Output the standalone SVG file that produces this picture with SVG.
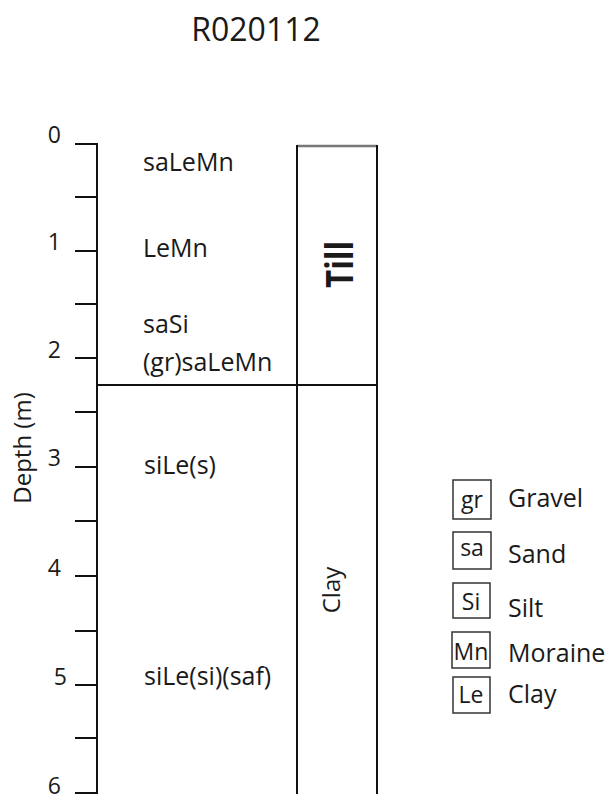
<svg xmlns="http://www.w3.org/2000/svg" width="611" height="794" viewBox="0 0 611 794">
<style>
text{font-family:"Open Sans","Noto Sans","DejaVu Sans",sans-serif;fill:#1a1a1a;}
.t{font-size:25px;}
.n{font-size:23px;text-anchor:end;}
.ln{stroke:#111;stroke-width:2;fill:none;}
.lb{stroke:#333;stroke-width:1.5;fill:none;}
.lg{font-size:23px;text-anchor:middle;}
</style>
<rect width="611" height="794" fill="#fff"/>
<text x="256" y="41" font-size="32" text-anchor="middle">R020112</text>
<g id="axis">
<line class="ln" x1="97" y1="143" x2="97" y2="794"/>
<g class="ln">
<line x1="75" y1="144" x2="97" y2="144"/>
<line x1="75" y1="197" x2="97" y2="197"/>
<line x1="75" y1="251" x2="97" y2="251"/>
<line x1="75" y1="304" x2="97" y2="304"/>
<line x1="75" y1="358" x2="97" y2="358"/>
<line x1="75" y1="412" x2="97" y2="412"/>
<line x1="75" y1="467" x2="97" y2="467"/>
<line x1="75" y1="521" x2="97" y2="521"/>
<line x1="75" y1="576" x2="97" y2="576"/>
<line x1="75" y1="631" x2="97" y2="631"/>
<line x1="75" y1="685" x2="97" y2="685"/>
<line x1="75" y1="738" x2="97" y2="738"/>
<line x1="75" y1="793" x2="97" y2="793"/>
</g>
<text class="n" x="61" y="143">0</text>
<text class="n" x="61" y="250">1</text>
<text class="n" x="61" y="358">2</text>
<text class="n" x="61" y="466">3</text>
<text class="n" x="61" y="576">4</text>
<text class="n" x="67" y="685">5</text>
<text class="n" x="61" y="794">6</text>
<text font-size="24" text-anchor="middle" transform="translate(31,448) rotate(-90)">Depth (m)</text>
</g>
<g id="boundary">
<line class="ln" x1="97" y1="385" x2="377" y2="385"/>
</g>
<g id="descriptions">
<text class="t" x="143" y="171">saLeMn</text>
<text class="t" x="143" y="257">LeMn</text>
<text class="t" x="143" y="333">saSi</text>
<text class="t" x="143" y="371">(gr)saLeMn</text>
<text class="t" x="144" y="474">siLe(s)</text>
<text class="t" x="144" y="685">siLe(si)(saf)</text>
</g>
<g id="column">
<line x1="297" y1="146" x2="377" y2="146" stroke="#777" stroke-width="2.5"/>
<line class="ln" x1="297" y1="145" x2="297" y2="794"/>
<line class="ln" x1="377" y1="145" x2="377" y2="794"/>
<text font-size="38" font-weight="bold" fill="#000" x="0" y="0" textLength="47" lengthAdjust="spacingAndGlyphs" transform="translate(353,288) rotate(-90)">Till</text>
<text font-size="24" text-anchor="middle" transform="translate(340,590) rotate(-90)">Clay</text>
</g>
<g id="legend">
<rect class="lb" x="453" y="480" width="38" height="39"/>
<text class="lg" x="472" y="508">gr</text>
<text class="t" x="508" y="507">Gravel</text>
<rect class="lb" x="453" y="532" width="38" height="37"/>
<text class="lg" x="472" y="556">sa</text>
<text class="t" x="508" y="563">Sand</text>
<rect class="lb" x="453" y="583" width="37" height="35"/>
<text class="lg" x="471" y="610">Si</text>
<text class="t" x="508" y="617">Silt</text>
<rect class="lb" x="452" y="632" width="38" height="36"/>
<text class="lg" x="471" y="660">Mn</text>
<text class="t" x="508" y="662">Moraine</text>
<rect class="lb" x="453" y="677" width="37" height="36"/>
<text class="lg" x="471" y="703">Le</text>
<text class="t" x="508" y="703">Clay</text>
</g>
</svg>
